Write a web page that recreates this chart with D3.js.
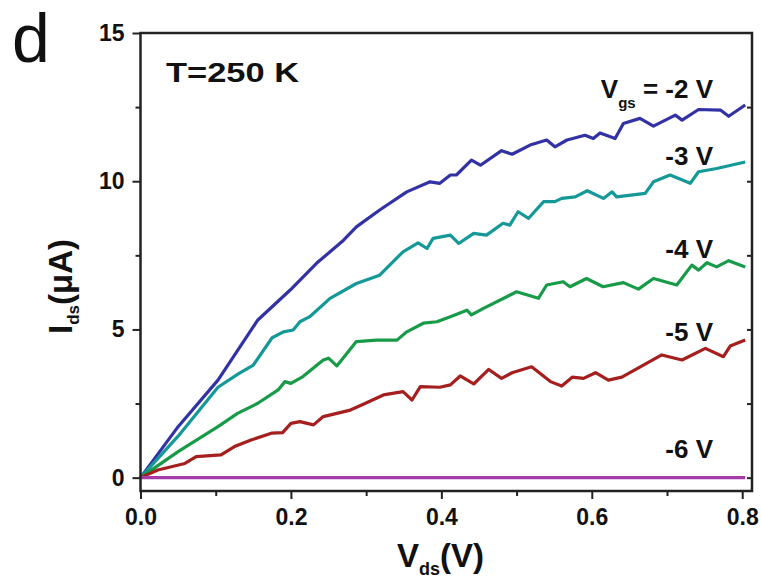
<html>
<head>
<meta charset='utf-8' />
<title>Ids-Vds</title>
<script src="https://d3js.org/d3.v7.min.js"></script>
<style>
body { margin:0; background:#fff; }
text { font-family: "Liberation Sans", Arial, sans-serif; }
.tick text { font-weight:bold; font-size:23px; fill:#111; }
.tick line { stroke:#222; stroke-width:2; }
</style>
</head>
<body>
<script>

// V_ds (V), I_ds (uA)
var vgs2 = [[0,0],[0.050,1.72],[0.103,3.29],[0.156,5.32],[0.199,6.33],[0.234,7.23],[0.270,8.01],[0.287,8.46],[0.318,9.03],[0.354,9.64],[0.385,9.98],[0.398,9.93],[0.412,10.21],[0.420,10.21],[0.440,10.71],[0.452,10.54],[0.480,11.03],[0.494,10.91],[0.518,11.22],[0.540,11.39],[0.551,11.16],[0.567,11.39],[0.591,11.55],[0.602,11.44],[0.611,11.63],[0.631,11.44],[0.642,11.95],[0.664,12.12],[0.682,11.86],[0.711,12.23],[0.720,12.06],[0.742,12.42],[0.771,12.40],[0.782,12.19],[0.804,12.57]];
var vgs3 = [[0,0],[0.050,1.40],[0.103,3.05],[0.130,3.50],[0.150,3.80],[0.175,4.72],[0.190,4.92],[0.203,4.98],[0.212,5.26],[0.225,5.43],[0.252,6.05],[0.287,6.55],[0.318,6.83],[0.349,7.62],[0.369,7.92],[0.381,7.73],[0.389,8.07],[0.412,8.18],[0.423,7.90],[0.443,8.24],[0.460,8.18],[0.482,8.58],[0.491,8.52],[0.502,8.97],[0.516,8.75],[0.536,9.31],[0.551,9.31],[0.560,9.42],[0.578,9.47],[0.594,9.68],[0.6155,9.42],[0.627,9.64],[0.633,9.47],[0.671,9.59],[0.682,9.98],[0.704,10.21],[0.731,9.93],[0.742,10.32],[0.766,10.43],[0.804,10.65]];
var vgs4 = [[0,0],[0.050,0.88],[0.103,1.72],[0.129,2.17],[0.156,2.51],[0.183,2.96],[0.192,3.24],[0.200,3.18],[0.216,3.41],[0.243,3.97],[0.250,4.03],[0.261,3.77],[0.287,4.59],[0.314,4.64],[0.341,4.64],[0.354,4.92],[0.376,5.21],[0.394,5.26],[0.412,5.43],[0.434,5.65],[0.440,5.49],[0.456,5.71],[0.500,6.27],[0.529,6.05],[0.540,6.50],[0.562,6.61],[0.571,6.44],[0.593,6.72],[0.615,6.44],[0.642,6.58],[0.662,6.36],[0.682,6.72],[0.713,6.50],[0.733,7.17],[0.742,7.00],[0.753,7.25],[0.766,7.11],[0.782,7.32],[0.804,7.11]];
var vgs5 = [[0,0],[0.023,0.26],[0.059,0.48],[0.074,0.71],[0.107,0.77],[0.125,1.05],[0.147,1.27],[0.174,1.50],[0.189,1.52],[0.200,1.83],[0.212,1.89],[0.230,1.78],[0.243,2.06],[0.279,2.28],[0.294,2.45],[0.323,2.79],[0.349,2.90],[0.361,2.62],[0.372,3.07],[0.398,3.05],[0.412,3.13],[0.425,3.43],[0.443,3.16],[0.463,3.65],[0.480,3.35],[0.494,3.54],[0.520,3.74],[0.545,3.24],[0.560,3.09],[0.574,3.39],[0.589,3.35],[0.605,3.54],[0.622,3.29],[0.640,3.39],[0.693,4.14],[0.720,3.97],[0.751,4.36],[0.775,4.08],[0.784,4.44],[0.804,4.64]];
var vgs6 = [[0,0],[0.804,0]];

var seriesNames = ["-2 V","-3 V","-4 V","-5 V","-6 V"];
var labelY = [12.8, 10.55, 7.4, 4.6, 0.67];
var xMajor = [0,0.2,0.4,0.6,0.8], xMinor = [0.1,0.3,0.5,0.7];
var yMajor = [0,5,10,15], yMinor = [2.5,7.5,12.5];

var colors = ["#3232a4","#149898","#179b48","#a51f1f","#a33ca8"];
var series = [vgs2,vgs3,vgs4,vgs5,vgs6];

var W = 761, H = 579;
var L = 140.5, R = 752, T = 33, B = 491;

var svg = d3.select("body").append("svg").attr("width",W).attr("height",H);

var x = d3.scaleLinear().domain([0,0.813]).range([L,R]);
var y = d3.scaleLinear().domain([-0.45,15]).range([B,T]);

// left axis
svg.append("g").attr("transform","translate("+L+",0)")
	.call(d3.axisLeft(y).tickValues(yMajor).tickSize(8).tickPadding(8).tickSizeOuter(0))
	.call(g=>g.select(".domain").remove());
svg.append("g").attr("transform","translate("+L+",0)")
	.call(d3.axisLeft(y).tickValues(yMinor).tickSize(5).tickFormat("").tickSizeOuter(0))
	.call(g=>g.select(".domain").remove());
// right axis, inward ticks
svg.append("g").attr("transform","translate("+R+",0)")
	.call(d3.axisLeft(y).tickValues(yMajor.concat(yMinor).filter(d=>d<15)).tickSize(5).tickFormat("").tickSizeOuter(0))
	.call(g=>g.select(".domain").remove());
// bottom axis
svg.append("g").attr("transform","translate(0,"+B+")")
	.call(d3.axisBottom(x).tickValues(xMajor).tickSize(8).tickPadding(10).tickFormat(d3.format(".1f")).tickSizeOuter(0))
	.call(g=>g.select(".domain").remove());
svg.append("g").attr("transform","translate(0,"+B+")")
	.call(d3.axisBottom(x).tickValues(xMinor).tickSize(5).tickFormat("").tickSizeOuter(0))
	.call(g=>g.select(".domain").remove());

var line = d3.line().x(d=>x(d[0])).y(d=>y(d[1]));

svg.selectAll(".curve").data(series).enter().append("path")
	.attr("class","curve")
	.attr("fill","none")
	.attr("stroke",(d,i)=>colors[i])
	.attr("stroke-width",3.2)
	.attr("stroke-linejoin","round")
	.attr("d",line);

// frame
svg.append("rect").attr("x",L).attr("y",T).attr("width",R-L).attr("height",B-T)
	.attr("fill","none").attr("stroke","#222").attr("stroke-width",2.5);

// curve labels
seriesNames.forEach(function(s,i){
	var t = svg.append("text").attr("x",713).attr("y",y(labelY[i]))
		.attr("text-anchor","end").attr("font-size","26px").attr("font-weight","bold").attr("fill","#111");
	if(i==0) {
		t.append("tspan").text("V");
		t.append("tspan").attr("font-size","15px").attr("dy",10).text("gs");
		t.append("tspan").attr("dy",-10).text(" = "+s);
	} else t.text(s);
});

svg.append("text").attr("x",166).attr("y",82).attr("font-size","28px").attr("font-weight","bold")
	.attr("textLength",133).attr("lengthAdjust","spacingAndGlyphs").attr("fill","#111").text("T=250 K");

svg.append("text").attr("x",12).attr("y",62).attr("font-size","68px").attr("fill","#111").text("d");

// axis titles
var xt = svg.append("text").attr("x",397).attr("y",567).attr("font-size","33px").attr("font-weight","bold").attr("fill","#111");
xt.append("tspan").text("V");
xt.append("tspan").attr("font-size","18px").attr("dy",8).text("ds");
xt.append("tspan").attr("dy",-8).text("(V)");

var yt = svg.append("text").attr("transform","translate(72,334) rotate(-90)").attr("font-size","33px").attr("font-weight","bold").attr("fill","#111");
yt.append("tspan").text("I");
yt.append("tspan").attr("font-size","17px").attr("dy",7).text("ds");
yt.append("tspan").attr("dy",-7).text("(\u03bcA)");

</script>
</body>
</html>
